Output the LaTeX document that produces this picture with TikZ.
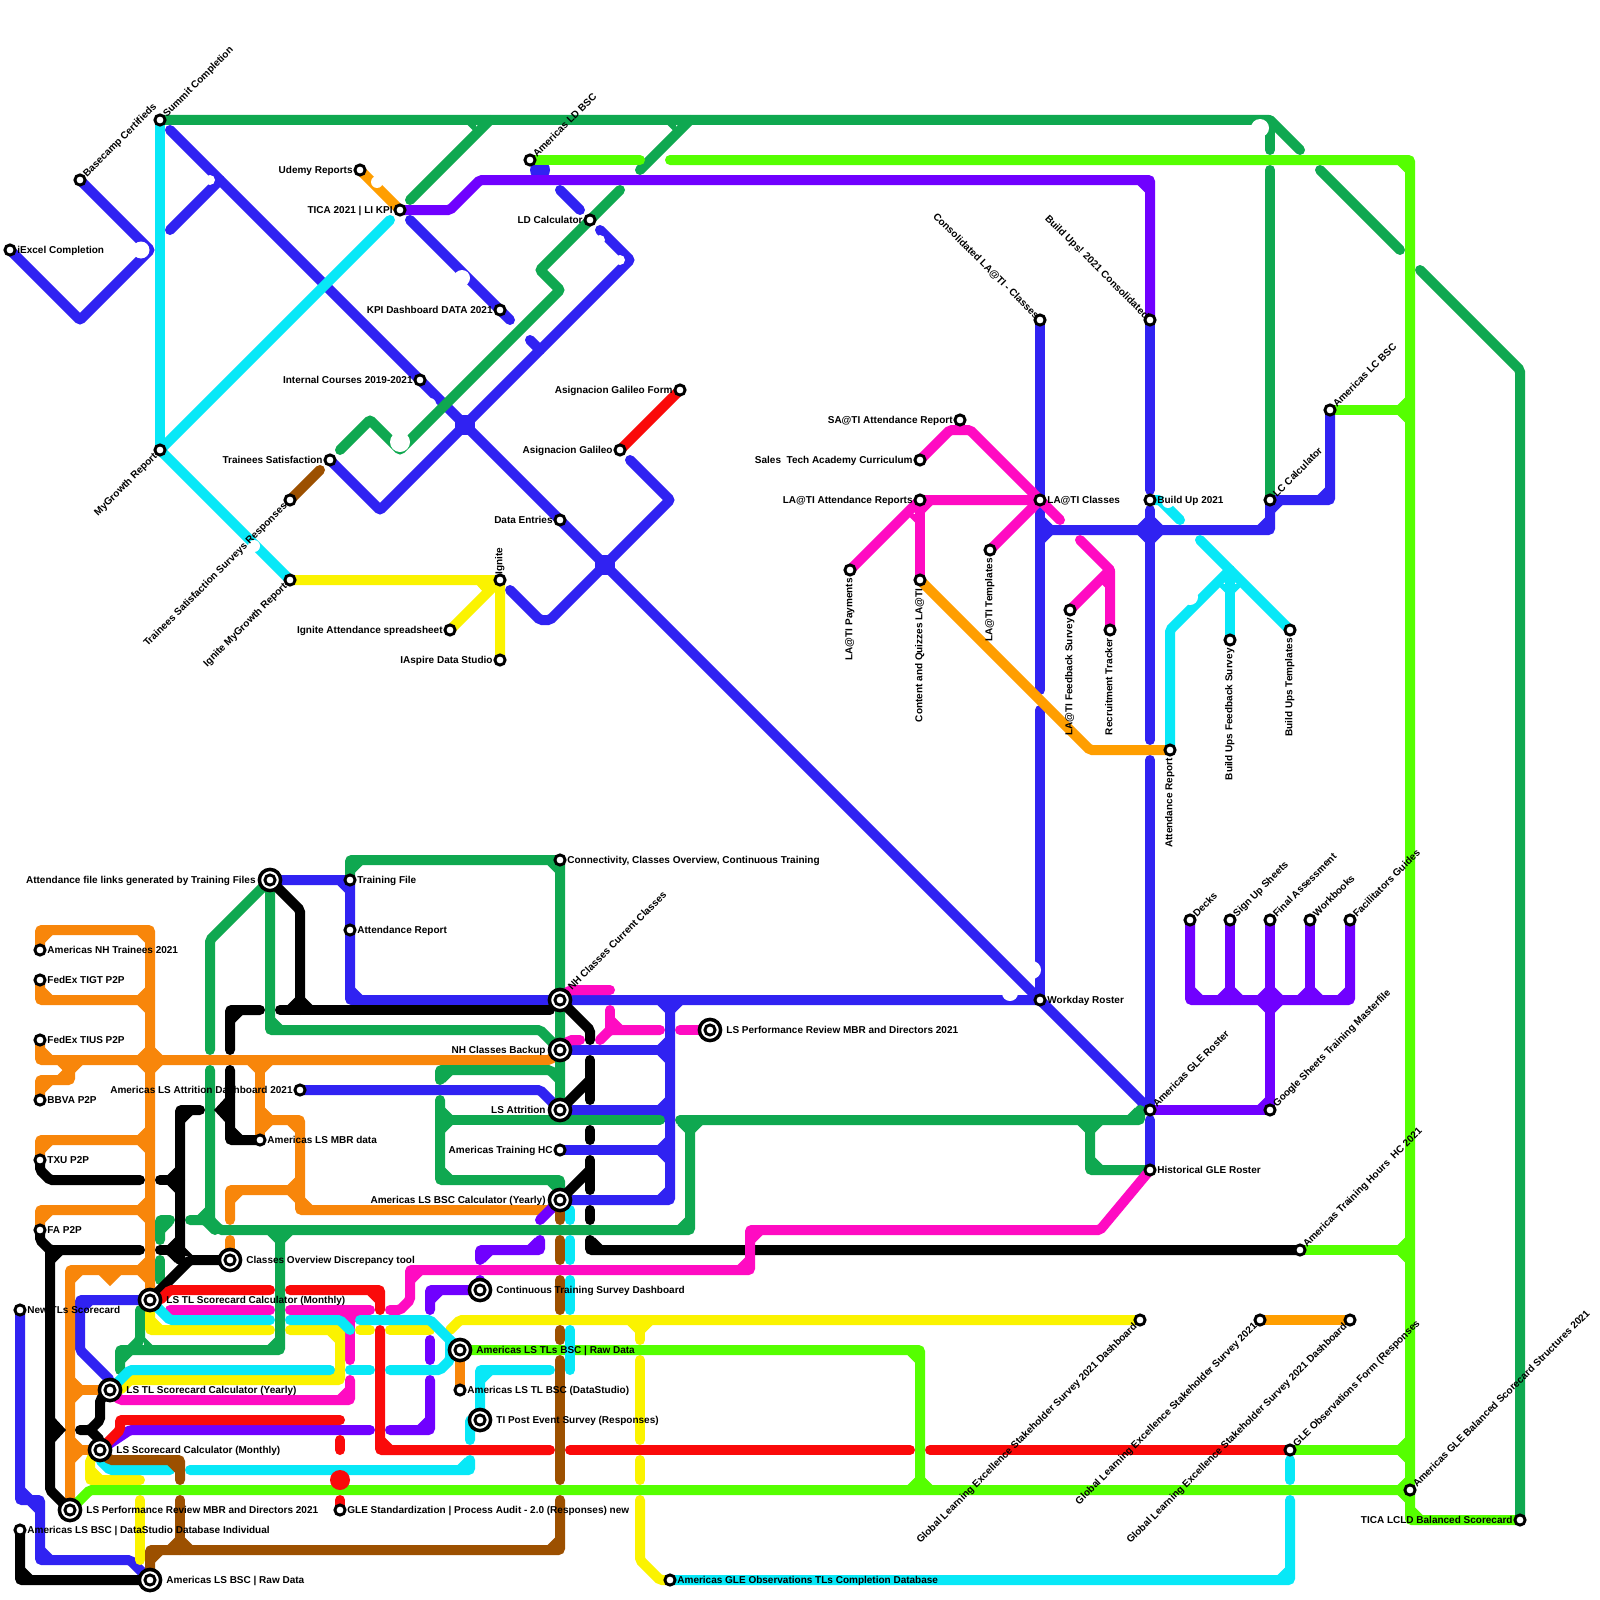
\documentclass[tikz,border=0pt]{standalone}
\usepackage{fontspec}
\setmainfont{Liberation Sans}
\usetikzlibrary{backgrounds}
\definecolor{cB}{HTML}{3022F2}
\definecolor{cC}{HTML}{08E8F7}
\definecolor{cG}{HTML}{0FA850}
\definecolor{cL}{HTML}{55FF00}
\definecolor{cP}{HTML}{7000FF}
\definecolor{cM}{HTML}{FF0BC2}
\definecolor{cR}{HTML}{FA0A0A}
\definecolor{cY}{HTML}{FBF300}
\definecolor{cO}{HTML}{F8860A}
\definecolor{cA}{HTML}{FF9E00}
\definecolor{cN}{HTML}{9C5000}
\definecolor{cK}{HTML}{000000}
\tikzset{
  ln/.style={line width=5pt,line cap=round,line join=miter,miter limit=10,rounded corners=1pt},
  lB/.style={ln,draw=cB},lC/.style={ln,draw=cC},lG/.style={ln,draw=cG},lL/.style={ln,draw=cL},
  lP/.style={ln,draw=cP},lM/.style={ln,draw=cM},lR/.style={ln,draw=cR},lY/.style={ln,draw=cY},
  lO/.style={ln,draw=cO},lA/.style={ln,draw=cA},lN/.style={ln,draw=cN},lK/.style={ln,draw=cK},
  stn/.style={circle,draw=black,fill=white,line width=1.45pt,minimum size=5.1pt,inner sep=0pt},
  stnb/.style={circle,draw=black,fill=white,line width=1.75pt,minimum size=10.6pt,inner sep=0pt},
  lab/.style={font=\fontsize{5}{6}\selectfont\bfseries,inner sep=0pt,text=black},
  labR/.style={xshift=3.5pt,yshift=1pt,anchor=mid west},
  labRb/.style={xshift=8pt,yshift=1pt,anchor=mid west},
  labL/.style={xshift=-3.5pt,yshift=1pt,anchor=mid east},
  labLb/.style={xshift=-7pt,yshift=1pt,anchor=mid east},
  labU/.style={xshift=1.5pt,yshift=3pt,rotate=45,anchor=mid west},
  labUb/.style={xshift=4pt,yshift=6.5pt,rotate=45,anchor=mid west},
  labD/.style={xshift=-3pt,yshift=-1.5pt,rotate=45,anchor=mid east},
  labB/.style={xshift=-0.5pt,yshift=2pt,rotate=-45,anchor=mid east},
  labV/.style={xshift=-1.5pt,yshift=-4pt,rotate=90,anchor=mid east},
  labT/.style={xshift=-1.5pt,yshift=2.5pt,rotate=90,anchor=mid west},
}
\def\qNW{\def\sx{-1}\def\sy{-1}}
\def\qNE{\def\sx{1}\def\sy{-1}}
\def\qSW{\def\sx{-1}\def\sy{1}}
\def\qSE{\def\sx{1}\def\sy{1}}
\newcommand\jn[4]{\foreach \q in {#4}{\csname q\q\endcsname
  \fill[#1] ({#2+\sx*4},{#3+\sy*4})--({#2+\sx*12.5},{#3+\sy*4})--({#2+\sx*12.5},{#3+\sy*5})--({#2+\sx*5},{#3+\sy*12.5})--({#2+\sx*4},{#3+\sy*12.5})--cycle;}}
\newcommand\sta[5]{\node[stn](#1) at (#2,#3) {}; \node[lab,#4](#1-l) at (#1) {#5};}
\newcommand\stb[5]{\node[stnb](#1) at (#2,#3) {}; \node[stn](#1-i) at (#1) {}; \node[lab,#4](#1-l) at (#1) {#5};}
\newcommand\hole[3]{\fill[white] (#1,#2) circle (#3);}
\begin{document}
\begin{tikzpicture}[x=0.5pt,y=-0.5pt]
\path[use as bounding box] (0,0) rectangle (1600,1600);
% stations
\sta{ie}{10}{250}{labR}{iExcel Completion}
\sta{bc}{80}{180}{labU}{Basecamp Certifieds}
\sta{sc}{160}{120}{labU}{Summit Completion}
\sta{ud}{360}{170}{labL}{Udemy Reports}
\sta{ti}{400}{210}{labL}{TICA 2021 | LI KPI}
\sta{kp}{500}{310}{labL}{KPI Dashboard DATA 2021}
\sta{ld}{530}{160}{labU}{Americas LD BSC}
\sta{lc}{590}{220}{labL}{LD Calculator}
\sta{ic}{420}{380}{labL}{Internal Courses 2019-2021}
\sta{ts}{330}{460}{labL}{Trainees Satisfaction}
\sta{mg}{160}{450}{labD}{MyGrowth Report}
\sta{ss}{290}{500}{labD}{Trainees Satisfaction Surveys Responses}
\sta{im}{290}{580}{labD}{Ignite MyGrowth Report}
\sta{ig}{500}{580}{labT}{Ignite}
\sta{ia}{450}{630}{labL}{Ignite Attendance spreadsheet}
\sta{asp}{500}{660}{labL}{IAspire Data Studio}
\sta{de}{560}{520}{labL}{Data Entries}
\sta{ag}{620}{450}{labL}{Asignacion Galileo}
\sta{af}{680}{390}{labL}{Asignacion Galileo Form}
\sta{sa}{960}{420}{labL}{SA@TI Attendance Report}
\sta{st}{920}{460}{labL}{Sales\ \ Tech Academy Curriculum}
\sta{lr}{920}{500}{labL}{LA@TI Attendance Reports}
\sta{lp}{850}{570}{labV}{LA@TI Payments}
\sta{cq}{920}{580}{labV}{Content and Quizzes LA@TI}
\sta{lt}{990}{550}{labV}{LA@TI Templates}
\sta{lx}{1040}{500}{labR}{LA@TI Classes}
\sta{cl}{1040}{320}{labB}{Consolidated LA@TI - Classes}
\sta{bu}{1150}{320}{labB}{Build Ups! 2021 Consolidated}
\sta{bv}{1150}{500}{labR}{Build Up 2021}
\sta{lf}{1070}{610}{labV}{LA@TI Feedback Survey}
\sta{rt}{1110}{630}{labV}{Recruitment Tracker}
\sta{ar}{1170}{750}{labV}{Attendance Report}
\sta{bf}{1230}{640}{labV}{Build Ups Feedback Survey}
\sta{bt}{1290}{630}{labV}{Build Ups Templates}
\sta{lk}{1270}{500}{labU}{LC Calculator}
\sta{al}{1330}{410}{labU}{Americas LC BSC}
\sta{da}{1190}{920}{labU}{Decks}
\sta{db}{1230}{920}{labU}{Sign Up Sheets}
\sta{dc}{1270}{920}{labU}{Final Assessment}
\sta{dd}{1310}{920}{labU}{Workbooks}
\sta{de2}{1350}{920}{labU}{Facilitators Guides}
\sta{wr}{1040}{1000}{labR}{Workday Roster}
\sta{gr}{1150}{1110}{labU}{Americas GLE Roster}
\sta{gs}{1270}{1110}{labU}{Google Sheets Training Masterfile}
\sta{hr}{1150}{1170}{labR}{Historical GLE Roster}
\sta{th}{1300}{1250}{labU}{Americas Training Hours\ \ HC 2021}
\sta{ga}{1140}{1320}{labD}{Global Learning Excellence Stakeholder Survey 2021 Dashboard}
\sta{gb}{1260}{1320}{labD}{Global Learning Excellence Stakeholder Survey 2021}
\sta{gc}{1350}{1320}{labD}{Global Learning Excellence Stakeholder Survey 2021 Dashboard}
\sta{go}{1290}{1450}{labU}{GLE Observations Form (Responses}
\sta{gz}{1410}{1490}{labU}{Americas GLE Balanced Scorecard Structures 2021}
\sta{tc}{1520}{1520}{labL}{TICA LCLD Balanced Scorecard}
\sta{oc}{670}{1580}{labR}{Americas GLE Observations TLs Completion Database}
\stb{fl}{270}{880}{labLb}{Attendance file links generated by Training Files}
\sta{tf}{350}{880}{labR}{Training File}
\sta{ax}{350}{930}{labR}{Attendance Report}
\sta{cn}{560}{860}{labR}{Connectivity, Classes Overview, Continuous Training}
\stb{nc}{560}{1000}{labUb}{NH Classes Current Classes}
\stb{nb}{560}{1050}{labLb}{NH Classes Backup}
\stb{la}{560}{1110}{labLb}{LS Attrition}
\sta{hc}{560}{1150}{labL}{Americas Training HC}
\stb{by}{560}{1200}{labLb}{Americas LS BSC Calculator (Yearly)}
\stb{pr}{710}{1030}{labRb}{LS Performance Review MBR and Directors 2021}
\sta{ad}{300}{1090}{labL}{Americas LS Attrition Dashboard 2021}
\sta{mb}{260}{1140}{labR}{Americas LS MBR data}
\sta{nt}{40}{950}{labR}{Americas NH Trainees 2021}
\sta{tg}{40}{980}{labR}{FedEx TIGT P2P}
\sta{tu}{40}{1040}{labR}{FedEx TIUS P2P}
\sta{bb}{40}{1100}{labR}{BBVA P2P}
\sta{tx}{40}{1160}{labR}{TXU P2P}
\sta{fa}{40}{1230}{labR}{FA P2P}
\stb{co}{230}{1260}{labRb}{Classes Overview Discrepancy tool}
\stb{tm}{150}{1300}{labRb}{LS TL Scorecard Calculator (Monthly)}
\sta{nw}{20}{1310}{labR}{New TLs Scorecard}
\stb{ty}{110}{1390}{labRb}{LS TL Scorecard Calculator (Yearly)}
\stb{sm}{100}{1450}{labRb}{LS Scorecard Calculator (Monthly)}
\stb{pb}{70}{1510}{labRb}{LS Performance Review MBR and Directors 2021}
\sta{ds}{20}{1530}{labR}{Americas LS BSC | DataStudio Database Individual}
\stb{rw}{150}{1580}{labRb}{Americas LS BSC | Raw Data}
\sta{gl}{340}{1510}{labR}{GLE Standardization | Process Audit - 2.0 (Responses) new}
\stb{ct}{480}{1290}{labRb}{Continuous Training Survey Dashboard}
\stb{tb}{460}{1350}{labRb}{Americas LS TLs BSC | Raw Data}
\sta{td}{460}{1390}{labR}{Americas LS TL BSC (DataStudio)}
\stb{tp}{480}{1420}{labRb}{TI Post Event Survey (Responses)}
\begin{scope}[on background layer]
\fill[white] (0,0) rectangle (1600,1600);
% BLUE
\draw[lB] (ie.center)--(80,320)--(150,250)--(bc.center);
\draw[lB] (170,230)--(220,180);
\draw[lB] (170,130)--(gr.center);
\draw[lB] (ts.center)--(380,510)--(630,260)--(600,230);
\draw[lB] (530,340)--(540,350);
\draw[lB] (410,220)--(510,320);
\draw[lB] (560,190)--(580,210);
\fill[cB] (540,170) circle (10);
\draw[lB] (510,590)--(540,620)--(550,620)--(670,500)--(630,460);
\fill[cB] (455,415) rectangle (475,435);
\fill[cB] (595,555) rectangle (615,575);
\draw[lB] (fl.center)--(350,880)--(350,1000)--(wr.center);
\jn{cB}{350}{880}{SW}\jn{cB}{350}{1000}{NE}
\draw[lB] (cl.center)--(1040,690);
\draw[lB] (1040,710)--(wr.center);
\draw[lB] (1040,530)--(1270,530)--(lk.center)--(1330,500)--(al.center);
\jn{cB}{1040}{530}{NE,SE}\jn{cB}{1150}{530}{NW,NE,SW,SE}\jn{cB}{1270}{530}{NW}\jn{cB}{1270}{500}{SE}\jn{cB}{1330}{500}{NW}
\draw[lB] (bu.center)--(1150,490);
\draw[lB] (1150,510)--(1150,740);
\draw[lB] (1150,760)--(gr.center);
\draw[lB] (1150,1120)--(hr.center);
\jn{cB}{1150}{1110}{NW}
\draw[lB] (ad.center)--(540,1090)--(la.center);
\draw[lB] (670,1000)--(670,1200)--(by.center);
\draw[lB] (nb.center)--(670,1050);
\draw[lB] (la.center)--(670,1110);
\draw[lB] (hc.center)--(670,1150);
\jn{cB}{670}{1000}{SW,SE}\jn{cB}{670}{1050}{NW,SW}\jn{cB}{670}{1110}{NW,SW}\jn{cB}{670}{1150}{NW,SW}\jn{cB}{670}{1200}{NW}
\draw[lB] (nw.center)--(20,1500)--(40,1500)--(40,1560)--(130,1560)--(rw.center);
\jn{cB}{20}{1500}{NE}\jn{cB}{40}{1500}{SW}\jn{cB}{40}{1560}{NE}
\draw[lB] (tm.center)--(80,1300)--(80,1350)--(110,1380)--(ty.center);
\jn{cB}{80}{1300}{SE}
% ORANGE
\draw[lO] (nt.center)--(40,930)--(150,930)--(tm.center);
\jn{cO}{40}{930}{SE}\jn{cO}{150}{930}{SW}
\draw[lO] (tg.center)--(40,1000)--(150,1000);
\jn{cO}{40}{1000}{NE}\jn{cO}{150}{1000}{NW,SW}
\draw[lO] (tu.center)--(40,1060)--(550,1060)--(nb.center);
\jn{cO}{40}{1060}{NE}\jn{cO}{150}{1060}{NW,NE,SW,SE}
\draw[lO] (bb.center)--(40,1080)--(70,1080)--(70,1060);
\jn{cO}{40}{1080}{SE}\jn{cO}{70}{1080}{NW}\jn{cO}{70}{1060}{SW,SE}
\draw[lO] (tx.center)--(40,1140)--(150,1140);
\jn{cO}{40}{1140}{SE}\jn{cO}{150}{1140}{NW,SW}
\draw[lO] (fa.center)--(40,1210)--(150,1210);
\jn{cO}{40}{1210}{SE}\jn{cO}{150}{1210}{NW,SW}
\draw[lO] (150,1270)--(70,1270)--(pb.center);
\jn{cO}{70}{1270}{SE}\jn{cO}{150}{1270}{NW,SW}
\fill[cO] (98,1274)--(110,1286)--(122,1274)--cycle;
\draw[lO] (ty.center)--(70,1390);
\draw[lO] (sm.center)--(70,1450);
\jn{cO}{70}{1390}{NE,SE}\jn{cO}{70}{1450}{NE,SE}
\draw[lO] (260,1060)--(mb.center);
\jn{cO}{260}{1060}{SW,SE}
\draw[lO] (260,1120)--(300,1120)--(300,1210)--(550,1210)--(by.center);
\jn{cO}{260}{1120}{NE,SE}\jn{cO}{300}{1120}{SW}\jn{cO}{300}{1210}{NE}
\draw[lO] (300,1190)--(230,1190)--(230,1220);
\jn{cO}{230}{1190}{SE}\jn{cO}{300}{1190}{NW,SW}
\draw[lO] (230,1240)--(co.center);
\draw[lO] (tb.center)--(td.center);
% AMBER
\draw[lA] (ud.center)--(ti.center);
\draw[lA] (cq.center)--(1090,750)--(ar.center);
\draw[lA] (gb.center)--(gc.center);
% GREEN
\draw[lG] (sc.center)--(1270,120)--(1300,150);
\draw[lG] (1270,120)--(1270,150);
\draw[lG] (1270,170)--(lk.center);
\draw[lG] (1320,170)--(1400,250);
\draw[lG] (1420,270)--(1520,370)--(tc.center);
\draw[lG] (410,200)--(490,120);
\draw[lG] (640,170)--(690,120);
\jn{cG}{480}{120}{SW}\jn{cG}{680}{120}{SW}
\draw[lG] (620,190)--(540,270)--(560,290)--(400,450)--(370,420)--(340,450);
\draw[lG] (tf.center)--(350,860)--(560,860)--(la.center);
\jn{cG}{350}{860}{SE}\jn{cG}{560}{860}{SW}
\draw[lG] (210,1050)--(210,940)--(fl.center);
\draw[lG] (fl.center)--(270,1030)--(540,1030)--(nb.center);
\jn{cG}{270}{1030}{NE}
\draw[lG] (210,1070)--(210,1220)--(220,1230)--(690,1230)--(690,1120);
\jn{cG}{690}{1230}{NW}\jn{cG}{690}{1120}{SW,SE}
\draw[lG] (680,1120)--(1140,1120)--(1140,1110);
\jn{cG}{1140}{1120}{NW}
\draw[lG] (1090,1120)--(1090,1170)--(hr.center);
\jn{cG}{1090}{1120}{SW,SE}\jn{cG}{1090}{1170}{NE}
\draw[lG] (440,1080)--(440,1070)--(550,1070)--(560,1080);
\jn{cG}{440}{1070}{SE}
\draw[lG] (440,1100)--(440,1180)--(560,1180)--(by.center);
\jn{cG}{440}{1180}{NE}\jn{cG}{560}{1180}{SW}
\draw[lG] (440,1120)--(660,1120);
\jn{cG}{440}{1120}{NE,SE}
\draw[lG] (160,1240)--(160,1220)--(170,1220);
\jn{cG}{160}{1220}{SE}
\draw[lG] (160,1260)--(160,1280);
\draw[lG] (190,1220)--(205,1220)--(215,1230);
\jn{cG}{210}{1220}{NW}
\draw[lG] (280,1230)--(280,1350)--(120,1350)--(120,1370);
\jn{cG}{280}{1230}{SW,SE}\jn{cG}{280}{1350}{NW}\jn{cG}{120}{1350}{SE}
\draw[lG] (140,1310)--(140,1340)--(130,1350);
\jn{cG}{140}{1350}{NE}
% BLACK
\draw[lK] (fl.center)--(300,910)--(300,1010);
\draw[lK] (280,1010)--(550,1010);
\jn{cK}{300}{1010}{NW,NE}
\draw[lK] (260,1010)--(230,1010)--(230,1050);
\jn{cK}{230}{1010}{SE}
\draw[lK] (230,1070)--(230,1140)--(mb.center);
\jn{cK}{230}{1140}{NE}
\fill[cK] (226,1097)--(214,1110)--(226,1123)--cycle;
\draw[lK] (200,1110)--(180,1110)--(180,1260);
\jn{cK}{180}{1110}{SE}
\draw[lK] (co.center)--(190,1260)--(tm.center);
\jn{cK}{180}{1260}{NW,NE}
\draw[lK] (160,1250)--(180,1250);
\jn{cK}{180}{1250}{NW,SW}
\draw[lK] (160,1180)--(180,1180);
\jn{cK}{180}{1180}{NW,SW}
\draw[lK] (tx.center)--(40,1170)--(50,1180)--(140,1180);
\draw[lK] (fa.center)--(40,1240)--(50,1250)--(140,1250);
\draw[lK] (50,1250)--(50,1490)--(pb.center);
\jn{cK}{50}{1250}{SE}
\fill[cK] (54,1417)--(66,1430)--(54,1443)--cycle;
\draw[lK] (80,1430)--(90,1430)--(100,1420)--(100,1400)--(ty.center);
\draw[lK] (90,1430)--(100,1440)--(sm.center);
\draw[lK] (ds.center)--(20,1580)--(rw.center);
\jn{cK}{20}{1580}{NE}
\draw[lK] (nc.center)--(590,1030)--(590,1040);
\draw[lK] (590,1060)--(590,1100);
\draw[lK] (590,1080)--(la.center);
\draw[lK] (590,1130)--(590,1140);
\draw[lK] (590,1160)--(590,1190);
\draw[lK] (590,1170)--(by.center);
\draw[lK] (590,1210)--(590,1220);
\draw[lK] (590,1240)--(590,1250)--(th.center);
\jn{cK}{590}{1250}{NE}
% PURPLE
\draw[lP] (ti.center)--(450,210)--(480,180)--(1150,180)--(bu.center);
\jn{cP}{1150}{180}{SW}
\draw[lP] (da.center)--(1190,1000)--(1350,1000)--(de2.center);
\draw[lP] (db.center)--(1230,1000);
\draw[lP] (dc.center)--(gs.center);
\draw[lP] (dd.center)--(1310,1000);
\jn{cP}{1190}{1000}{NE}\jn{cP}{1230}{1000}{NW,NE}\jn{cP}{1270}{1000}{NW,NE,SW,SE}\jn{cP}{1310}{1000}{NW,NE}\jn{cP}{1350}{1000}{NW}
\draw[lP] (gr.center)--(gs.center);
\jn{cP}{1270}{1110}{NW}
\draw[lP] (540,1220)--(by.center);
\draw[lP] (540,1240)--(540,1250)--(480,1250)--(480,1260);
\jn{cP}{540}{1250}{NW}\jn{cP}{480}{1250}{SE}
\draw[lP] (480,1280)--(ct.center);
\draw[lP] (ct.center)--(430,1290)--(430,1310);
\jn{cP}{430}{1290}{SE}
\draw[lP] (430,1340)--(430,1360);
\draw[lP] (430,1380)--(430,1430)--(390,1430);
\jn{cP}{430}{1430}{NW}
\draw[lP] (370,1430)--(130,1430)--(sm.center);
% MAGENTA
\draw[lM] (st.center)--(950,430)--(970,430)--(1060,520);
\draw[lM] (sa.center)--(960,430);
\draw[lM] (lp.center)--(lr.center)--(lx.center);
\draw[lM] (lt.center)--(lx.center);
\jn{cM}{1040}{500}{NW,SW}
\draw[lM] (lr.center)--(cq.center);
\jn{cM}{920}{500}{SE}\jn{cM}{920}{510}{SW}
\draw[lM] (1080,540)--(1110,570)--(rt.center);
\draw[lM] (lf.center)--(1110,570);
\jn{cM}{1110}{575}{SW}
\draw[lM] (nc.center)--(570,990)--(610,990);
\draw[lM] (nb.center)--(570,1040)--(580,1040);
\draw[lM] (600,1040)--(610,1030)--(660,1030);
\draw[lM] (610,1010)--(610,1030);
\jn{cM}{610}{1030}{NE}
\draw[lM] (680,1030)--(pr.center);
\draw[lM] (390,1310)--(400,1310)--(410,1300)--(410,1270)--(750,1270)--(750,1230)--(1100,1230)--(hr.center);
\jn{cM}{410}{1270}{SE}\jn{cM}{750}{1270}{NW}\jn{cM}{750}{1230}{SE}
\draw[lM] (170,1310)--(270,1310);
\draw[lM] (290,1310)--(370,1310);
\draw[lM] (350,1310)--(350,1360);
\jn{cM}{350}{1310}{SW,SE}
\draw[lM] (350,1380)--(350,1400)--(120,1400)--(ty.center);
\jn{cM}{350}{1400}{NW}
% RED
\draw[lR] (ag.center)--(af.center);
\draw[lR] (tm.center)--(160,1300)--(170,1290)--(270,1290);
\draw[lR] (290,1290)--(380,1290)--(380,1310);
\jn{cR}{380}{1290}{SW}
\draw[lR] (380,1330)--(380,1450)--(550,1450);
\jn{cR}{380}{1450}{NE}
\draw[lR] (570,1450)--(910,1450);
\draw[lR] (930,1450)--(go.center);
\draw[lR] (340,1420)--(120,1420)--(120,1430)--(sm.center);
\draw[lR] (340,1440)--(340,1450);
\draw[lR] (340,1500)--(gl.center);
% YELLOW
\draw[lY] (im.center)--(ig.center)--(asp.center);
\draw[lY] (ia.center)--(ig.center);
\fill[cY] (476,584)--(493,584)--(484,593)--cycle;
\draw[lY] (tm.center)--(150,1330)--(270,1330);
\jn{cY}{150}{1330}{NE}
\draw[lY] (290,1330)--(340,1330)--(340,1380)--(130,1380)--(120,1390)--(ty.center);
\jn{cY}{340}{1330}{SW}\jn{cY}{340}{1380}{NW}
\draw[lY] (360,1330)--(370,1330);
\draw[lY] (390,1330)--(430,1330);
\draw[lY] (450,1330)--(460,1320)--(ga.center);
\draw[lY] (640,1320)--(640,1340);
\jn{cY}{640}{1320}{SW,SE}
\draw[lY] (640,1360)--(640,1440);
\draw[lY] (640,1460)--(640,1480);
\draw[lY] (640,1500)--(640,1560)--(660,1580)--(oc.center);
\draw[lY] (sm.center)--(90,1460)--(90,1480)--(140,1480);
\jn{cY}{90}{1480}{NE}
\draw[lY] (140,1500)--(140,1560);
% LIME
\draw[lL] (ld.center)--(640,160);
\draw[lL] (670,160)--(1410,160)--(1410,1520)--(tc.center);
\jn{cL}{1410}{160}{SW}\jn{cL}{1410}{410}{NW,SW}\jn{cL}{1410}{1250}{NW,SW}\jn{cL}{1410}{1450}{NW,SW}\jn{cL}{1410}{1490}{NW,SW}\jn{cL}{1410}{1520}{NE}
\draw[lL] (al.center)--(1410,410);
\draw[lL] (th.center)--(1410,1250);
\draw[lL] (go.center)--(1410,1450);
\draw[lL] (pb.center)--(90,1490)--(gz.center);
\draw[lL] (tb.center)--(920,1350)--(920,1490);
\jn{cL}{920}{1350}{SW}\jn{cL}{920}{1490}{NW,NE}
% CYAN
\draw[lC] (sc.center)--(mg.center);
\draw[lC] (mg.center)--(390,220);
\draw[lC] (mg.center)--(im.center);
\draw[lC] (bv.center)--(1160,500)--(1180,520);
\draw[lC] (1200,540)--(bt.center);
\draw[lC] (ar.center)--(1170,630)--(1230,570);
\draw[lC] (1230,570)--(bf.center);
\jn{cC}{1230}{580}{SW,SE}
\draw[lC] (tm.center)--(170,1320)--(270,1320);
\draw[lC] (290,1320)--(340,1320)--(350,1330);
\draw[lC] (360,1320)--(430,1320)--(tb.center);
\draw[lC] (450,1340)--(450,1360)--(440,1370)--(390,1370);
\draw[lC] (350,1370)--(370,1370);
\draw[lC] (ty.center)--(130,1370)--(330,1370);
\draw[lC] (sm.center)--(100,1460)--(110,1470)--(170,1470);
\draw[lC] (190,1470)--(470,1470)--(470,1460);
\jn{cC}{470}{1470}{NW}
\draw[lC] (tp.center)--(470,1420)--(470,1440);
\draw[lC] (tp.center)--(480,1370)--(550,1370);
\jn{cC}{480}{1370}{SE}
\draw[lC] (570,1210)--(570,1220);
\draw[lC] (570,1240)--(570,1260);
\draw[lC] (570,1280)--(570,1310);
\draw[lC] (570,1330)--(570,1370);
\draw[lC] (oc.center)--(1290,1580)--(1290,1500);
\jn{cC}{1290}{1580}{NW}
\draw[lC] (1290,1460)--(1290,1480);
% BROWN
\draw[lN] (ss.center)--(320,470);
\draw[lN] (sm.center)--(110,1460)--(180,1460)--(180,1480);
\jn{cN}{180}{1460}{SW}
\draw[lN] (180,1500)--(180,1550);
\draw[lN] (rw.center)--(150,1550)--(560,1550)--(560,1500);
\jn{cN}{150}{1550}{SE}\jn{cN}{560}{1550}{NW}\jn{cN}{180}{1550}{NW,NE}
\draw[lN] (560,1210)--(560,1220);
\draw[lN] (560,1240)--(560,1260);
\draw[lN] (560,1280)--(560,1310);
\draw[lN] (560,1330)--(560,1340);
\draw[lN] (560,1360)--(560,1480);
% red disc on top
\fill[cR] (340,1480) circle (10);
% holes
\hole{141}{250}{8.5}
\hole{210}{180}{5}
\hole{1260}{128}{9}
\hole{377}{182}{6}
\hole{462}{278}{8}
\hole{620}{260}{5}
\hole{600}{240}{5}
\hole{430}{404}{6}
\hole{400}{442}{10}
\hole{254}{546}{6}
\hole{1168}{502}{6}
\hole{1190}{597}{8}
\hole{1010}{993}{8}
\hole{1032}{970}{9}
\end{scope}
\end{tikzpicture}
\end{document}
